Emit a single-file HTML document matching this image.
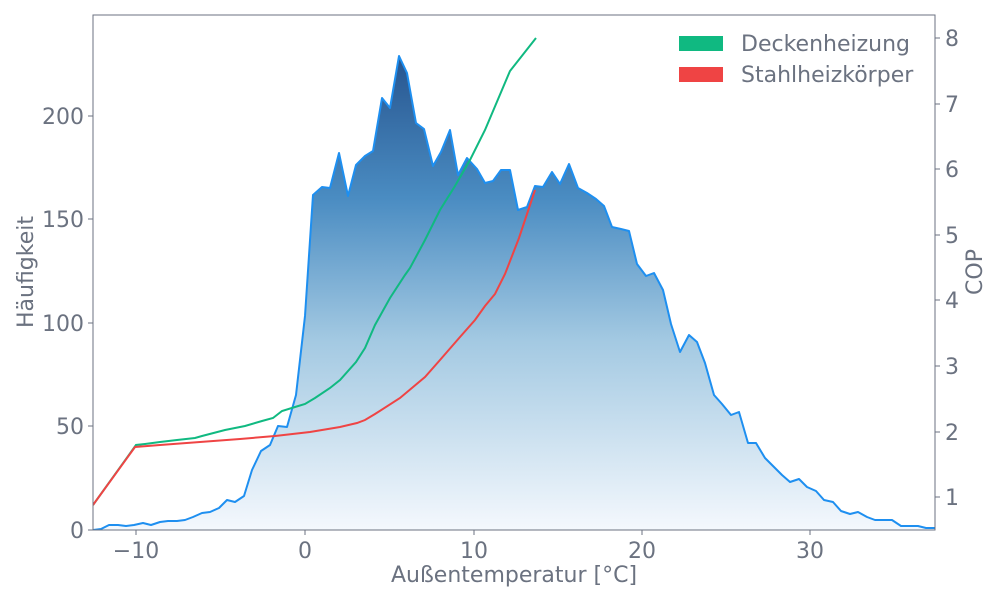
<!DOCTYPE html>
<html><head><meta charset="utf-8"><style>
html,body{margin:0;padding:0;background:#fff}
svg text{font-family:"DejaVu Sans","Liberation Sans",sans-serif;fill:#6b7280}
</style></head><body>
<svg width="1000" height="600" viewBox="0 0 1000 600" xmlns="http://www.w3.org/2000/svg">
<defs>
<linearGradient id="g" x1="0" y1="56" x2="0" y2="530" gradientUnits="userSpaceOnUse">
<stop offset="0" stop-color="#27558f"/>
<stop offset="0.3" stop-color="#4a8cc2"/>
<stop offset="0.6" stop-color="#a3c9e2"/>
<stop offset="1" stop-color="#f4f8fd"/>
</linearGradient>
<clipPath id="c"><rect x="93" y="15" width="842" height="515"/></clipPath>
</defs>
<g clip-path="url(#c)">
<polygon fill="url(#g)" points="93,530 101,529 109,525 118,525 126,526 134,525 143,523 151,525 160,522 168,521 177,521 185,520 193,517 202,513 210,512 219,508 227,500 235,502 244,496 252,470 261,451 270,445 278,426 287,427 296,395 305,316 313,195 322,187 330,188 339,153 348,196 356,165 365,156 373,151 382,98 390,108 399,56 407,73 416,123 424,129 433,166 441,152 450,130 458,175 467,158 477,169 485,183 493,181 501,170 510,170 518,210 527,207 535,186 543,187 552,172 560,184 569,164 578,188 587,193 596,199 604,206 612,227 621,229 629,231 637,264 646,276 654,273 663,290 671,324 680,352 689,335 697,342 705,363 714,395 722,404 731,415 739,412 748,443 756,443 765,458 773,466 782,475 790,482 799,479 807,487 816,491 824,500 833,502 841,511 850,514 858,512 867,517 875,520 884,520 892,520 901,526 909,526 918,526 926,528 935,528 935,530"/>
<polyline fill="none" stroke="#1e8ff0" stroke-width="2" stroke-linejoin="round" points="93,530 101,529 109,525 118,525 126,526 134,525 143,523 151,525 160,522 168,521 177,521 185,520 193,517 202,513 210,512 219,508 227,500 235,502 244,496 252,470 261,451 270,445 278,426 287,427 296,395 305,316 313,195 322,187 330,188 339,153 348,196 356,165 365,156 373,151 382,98 390,108 399,56 407,73 416,123 424,129 433,166 441,152 450,130 458,175 467,158 477,169 485,183 493,181 501,170 510,170 518,210 527,207 535,186 543,187 552,172 560,184 569,164 578,188 587,193 596,199 604,206 612,227 621,229 629,231 637,264 646,276 654,273 663,290 671,324 680,352 689,335 697,342 705,363 714,395 722,404 731,415 739,412 748,443 756,443 765,458 773,466 782,475 790,482 799,479 807,487 816,491 824,500 833,502 841,511 850,514 858,512 867,517 875,520 884,520 892,520 901,526 909,526 918,526 926,528 935,528"/>
<polyline fill="none" stroke="#10b981" stroke-width="2" points="93,505 136,445 145,444 160,442 177,440 195,438 202,436 225,430 245,426 262,421 273,418 282,411 295,407 305,404 315,398 330,388 340,380 356,362 365,348 375,325 390,298 405,275 410,268 425,240 440,210 455,186 470,160 485,130 510,71 536,38"/>
<polyline fill="none" stroke="#ef4444" stroke-width="2" points="93,505 135,447 160,445 200,442 240,439 275,436 310,432 340,427 357,423 365,420 375,414 400,398 425,377 440,360 460,337 475,320 485,306 495,294 505,274 519,238 535,190"/>
</g>
<rect x="93" y="15" width="842" height="515" fill="none" stroke="#6b7280" stroke-width="1"/>
<g stroke="#6b7280" stroke-width="1">
<line x1="88" y1="530" x2="93" y2="530"/><line x1="88" y1="426" x2="93" y2="426"/><line x1="88" y1="323" x2="93" y2="323"/><line x1="88" y1="219" x2="93" y2="219"/><line x1="88" y1="116" x2="93" y2="116"/>
<line x1="136" y1="530" x2="136" y2="535"/><line x1="305" y1="530" x2="305" y2="535"/><line x1="474" y1="530" x2="474" y2="535"/><line x1="642" y1="530" x2="642" y2="535"/><line x1="810" y1="530" x2="810" y2="535"/>
<line x1="935" y1="497" x2="940" y2="497"/><line x1="935" y1="432" x2="940" y2="432"/><line x1="935" y1="366" x2="940" y2="366"/><line x1="935" y1="300" x2="940" y2="300"/><line x1="935" y1="235" x2="940" y2="235"/><line x1="935" y1="169" x2="940" y2="169"/><line x1="935" y1="104" x2="940" y2="104"/><line x1="935" y1="38" x2="940" y2="38"/>
</g>
<g font-size="22" text-anchor="end">
<text x="84" y="538">0</text><text x="84" y="434">50</text><text x="84" y="331">100</text><text x="84" y="227">150</text><text x="84" y="124">200</text>
</g>
<g font-size="22" text-anchor="middle">
<text x="136" y="558">−10</text><text x="305" y="558">0</text><text x="474" y="558">10</text><text x="642" y="558">20</text><text x="810" y="558">30</text>
</g>
<g font-size="22" text-anchor="start">
<text x="945" y="505">1</text><text x="945" y="440">2</text><text x="945" y="374">3</text><text x="945" y="308">4</text><text x="945" y="243">5</text><text x="945" y="177">6</text><text x="945" y="112">7</text><text x="945" y="46">8</text>
</g>
<text x="514" y="582" font-size="22" text-anchor="middle">Außentemperatur [°C]</text>
<text transform="translate(33,272) rotate(-90)" font-size="22" text-anchor="middle">Häufigkeit</text>
<text transform="translate(982,272) rotate(-90)" font-size="22" text-anchor="middle">COP</text>
<rect x="679" y="36" width="44" height="15" fill="#10b981"/>
<rect x="679" y="67" width="44" height="15" fill="#ef4444"/>
<text x="741" y="51" font-size="22">Deckenheizung</text>
<text x="741" y="82" font-size="22">Stahlheizkörper</text>
</svg>
</body></html>
